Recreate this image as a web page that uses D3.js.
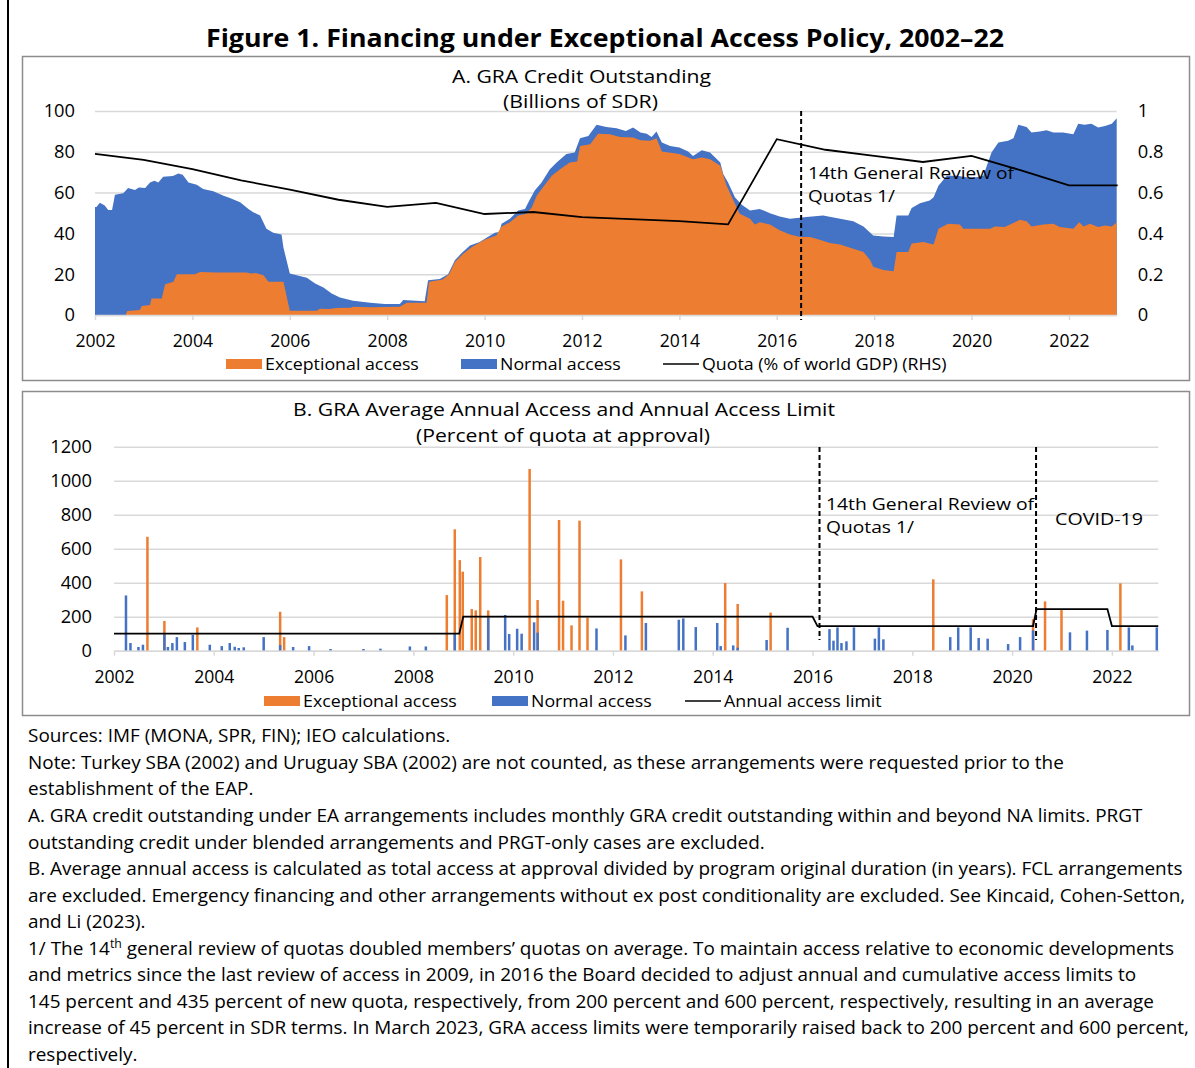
<!DOCTYPE html>
<html>
<head>
<meta charset="utf-8">
<script src="https://cdn.jsdelivr.net/npm/d3@7"></script>
<style>
  body { margin: 0; background: #fff; }
  svg { display: block; }
  text { font-family: "Open Sans", "Noto Sans", sans-serif; fill: #000; }
</style>
</head>
<body>
<div id="chart"></div>
<script>
// ---- Panel A: GRA credit outstanding, billions of SDR ([year, value]) ----
var totalCredit = [
  [2002.0,53],[2002.03,53],[2002.1,55],[2002.2,53.7],[2002.27,51.5],[2002.35,51.5],[2002.41,59],
  [2002.58,59.7],[2002.68,62.3],[2002.82,61.3],[2002.9,62.5],[2003.03,62.3],[2003.13,65],[2003.22,65.8],
  [2003.3,65],[2003.4,67.8],[2003.6,68.1],[2003.71,69.4],[2003.8,68.8],[2003.92,65],[2004.09,63.9],
  [2004.22,61.8],[2004.43,60.7],[2004.64,58.5],[2004.77,57.4],[2004.98,55.3],[2005.15,52],[2005.25,50.4],
  [2005.39,48.8],[2005.52,42.3],[2005.66,40.3],[2005.83,39.5],[2005.87,33],[2006.0,20.3],[2006.14,19.5],
  [2006.35,18.2],[2006.52,15.4],[2006.69,13.5],[2006.86,10.6],[2007.03,8.6],[2007.3,7],[2007.65,6],
  [2007.95,5.4],[2008.26,5.4],[2008.33,7.3],[2008.77,6.8],[2008.84,17],[2009.08,17.6],[2009.25,20],
  [2009.39,26.8],[2009.53,30.4],[2009.7,34.1],[2009.9,35.8],[2010.04,37.9],[2010.21,40.3],[2010.3,40.7],
  [2010.35,44.7],[2010.52,47.2],[2010.69,51.2],[2010.83,52],[2010.9,55.3],[2011.03,61],[2011.17,65],
  [2011.34,71.5],[2011.48,74.8],[2011.68,78.9],[2011.85,79.7],[2011.96,86.7],[2012.13,87.8],[2012.3,93.2],
  [2012.5,92.2],[2012.71,91.5],[2012.9,90.2],[2013.05,91.9],[2013.2,89.4],[2013.33,88.9],[2013.43,87.3],
  [2013.53,89.9],[2013.64,84.6],[2013.81,82.9],[2014.0,82.1],[2014.18,80.2],[2014.28,78],[2014.46,80.8],
  [2014.63,79.7],[2014.84,74.8],[2014.9,69.1],[2015.0,65],[2015.14,57.7],[2015.28,54.1],[2015.45,51.2],
  [2015.65,52],[2015.86,49.9],[2016.06,48.3],[2016.27,47.2],[2016.61,48],[2016.95,48.8],[2017.3,47.2],
  [2017.57,46],[2017.78,43.4],[2017.98,39],[2018.19,38.5],[2018.4,38.2],[2018.46,48.8],[2018.7,48.8],
  [2018.77,52.5],[2018.94,54.8],[2019.14,56.1],[2019.22,57.7],[2019.32,63.4],[2019.49,68.3],[2019.7,68.3],
  [2019.9,67.5],[2020.1,67.5],[2020.24,68.3],[2020.41,79.7],[2020.55,84.6],[2020.75,85.4],[2020.86,86.7],
  [2020.96,93.2],[2021.13,92.2],[2021.23,89.4],[2021.4,89.9],[2021.54,90.6],[2021.68,89.4],[2021.88,89.4],
  [2022.09,88.6],[2022.19,93.8],[2022.32,93.2],[2022.46,93.8],[2022.6,91.9],[2022.74,92.7],[2022.88,93.8],
  [2022.98,96.4]
];
var exceptionalCredit = [
  [2002.0,0],[2002.63,0],[2002.66,2],[2002.92,2.4],[2002.96,4.4],[2003.13,4.9],[2003.16,8.1],[2003.37,8.1],
  [2003.44,15.1],[2003.61,16.3],[2003.68,20],[2003.92,20],[2004.05,20],[2004.16,21.1],[2004.5,20.8],
  [2005.11,20.8],[2005.2,20.3],[2005.3,20.6],[2005.46,19.5],[2005.56,16.3],[2005.87,16.3],[2006.0,2.1],
  [2006.55,2.1],[2006.62,3.1],[2006.82,2.9],[2006.95,3.4],[2007.25,3.6],[2007.3,4.1],[2007.65,3.8],
  [2008.26,4.1],[2008.4,6],[2008.81,6],[2008.86,16.3],[2009.14,17.4],[2009.27,20],[2009.39,26],[2009.56,30],
  [2009.74,33.3],[2010.0,36.9],[2010.24,39],[2010.35,43.4],[2010.52,45.5],[2010.69,48.8],[2010.86,49.6],
  [2010.97,52.8],[2011.07,58.5],[2011.2,62.6],[2011.38,68.3],[2011.55,71.5],[2011.75,74.8],[2011.9,75.3],
  [2011.96,82.9],[2012.17,83.7],[2012.26,86.7],[2012.33,88.9],[2012.57,88.6],[2012.78,87.3],[2013.05,87],
  [2013.2,85.7],[2013.4,85.4],[2013.53,86.7],[2013.64,80.2],[2014.0,78.9],[2014.28,76.4],[2014.46,77.2],
  [2014.63,76.4],[2014.84,73.2],[2014.97,63.4],[2015.11,56.1],[2015.24,49.6],[2015.45,47.2],[2015.55,44.4],
  [2015.65,45.5],[2015.86,44.4],[2016.06,41.5],[2016.27,39.5],[2016.48,38.2],[2016.68,38.2],[2016.88,36.9],
  [2017.09,35.3],[2017.3,34.6],[2017.57,32.5],[2017.78,30.9],[2017.92,26.8],[2017.98,23.6],[2018.19,22],
  [2018.4,21.4],[2018.46,30.9],[2018.7,30.9],[2018.77,35],[2019.01,35.8],[2019.22,34.5],[2019.32,42.3],
  [2019.52,44.7],[2019.76,44.4],[2019.83,42.3],[2020.38,42.3],[2020.48,43.4],[2020.68,43.1],[2020.89,45.5],
  [2020.99,46.7],[2021.13,46],[2021.23,43.4],[2021.47,44.4],[2021.68,44.7],[2021.81,43.1],[2022.09,42.3],
  [2022.21,45.5],[2022.3,43.4],[2022.43,44.7],[2022.6,43.1],[2022.74,43.9],[2022.88,43.4],[2022.98,45.5]
];
// quota, % of world GDP (RHS)
var quotaYears = [2002,2003,2004,2005,2006,2007,2008,2009,2010,2011,2012,2013,2014,2015,2016,2017,2018,2019,2020,2021,2022,2023];
var quotaShare = [0.79,0.76,0.715,0.66,0.615,0.565,0.53,0.55,0.495,0.505,0.48,0.47,0.46,0.444,0.862,0.81,0.78,0.75,0.78,0.71,0.635,0.635];

// ---- Panel B: average annual access, percent of quota ----
var exceptionalDates = [2002.67,2003.01,2003.67,2005.33,2005.41,2008.67,2008.83,2008.93,2008.99,2009.17,2009.25,2009.34,2009.5,
  2010.33,2010.49,2010.92,2011.0,2011.17,2011.33,2011.49,2012.16,2012.58,2014.25,2014.5,2015.16,2018.42,2020.42,2020.66,2020.99,2022.17];
var exceptionalAccess = [670,175,137,229,80,327,714,533,465,245,237,551,237,
  1069,298,769,294,149,765,195,537,349,398,275,224,420,185,290,239,396];
var normalDates = [2002.24,2002.33,2002.49,2002.58,2003.01,2003.08,2003.17,2003.26,2003.42,2003.58,2003.92,2004.16,2004.32,
  2004.42,2004.5,2004.6,2005.0,2005.33,2005.59,2005.91,2006.34,2007.0,2007.34,2007.93,2008.25,2008.83,2009.5,2009.84,
  2009.92,2010.08,2010.17,2010.42,2010.49,2011.67,2012.25,2012.66,2013.32,2013.41,2013.66,2014.09,2014.16,2014.41,
  2014.5,2015.08,2015.5,2016.34,2016.42,2016.5,2016.58,2016.68,2016.83,2017.25,2017.33,2017.42,2018.76,2018.92,
  2019.17,2019.33,2019.51,2019.92,2020.16,2020.42,2021.16,2021.5,2021.91,2022.34,2022.41,2022.9];
var normalAccess = [325,45,22,35,95,22,45,80,51,94,35,27,45,
  23,16,20,80,33,22,27,10,10,12,25,25,100,195,210,
  98,129,100,167,106,131,90,163,182,190,139,163,27,31,
  18,63,135,127,59,137,45,55,137,71,137,67,80,137,
  137,75,71,39,80,120,108,118,122,137,31,137];
var limitDates = [2002,2008.92,2009.0,2016.0,2016.1,2020.42,2020.49,2021.91,2022.0,2022.93];
var limitValues = [100,100,200,200,145,145,245,245,145,145];

var reviewDateA = 2016.5, reviewDateB = 2016.14, covidDate = 2020.48;
var evenYears = [2002,2004,2006,2008,2010,2012,2014,2016,2018,2020,2022];

var notes = [
  "Sources: IMF (MONA, SPR, FIN); IEO calculations.",
  "Note: Turkey SBA (2002) and Uruguay SBA (2002) are not counted, as these arrangements were requested prior to the",
  "establishment of the EAP.",
  "A. GRA credit outstanding under EA arrangements includes monthly GRA credit outstanding within and beyond NA limits. PRGT",
  "outstanding credit under blended arrangements and PRGT-only cases are excluded.",
  "B. Average annual access is calculated as total access at approval divided by program original duration (in years). FCL arrangements",
  "are excluded. Emergency financing and other arrangements without ex post conditionality are excluded. See Kincaid, Cohen-Setton,",
  "and Li (2023).",
  ["1/ The 14", "th", " general review of quotas doubled members\u2019 quotas on average. To maintain access relative to economic developments"],
  "and metrics since the last review of access in 2009, in 2016 the Board decided to adjust annual and cumulative access limits to",
  "145 percent and 435 percent of new quota, respectively, from 200 percent and 600 percent, respectively, resulting in an average",
  "increase of 45 percent in SDR terms. In March 2023, GRA access limits were temporarily raised back to 200 percent and 600 percent,",
  "respectively."
];

var ORANGE = "#ED7D31", BLUE = "#4472C4", GRID = "#D9D9D9";
var W = 1195, H = 1068;
var AXIS_FONT = 18.3, XAXIS_FONT = 17.6, SUB_FONT = 18, LEG_FONT = 16.5, NOTE_FONT = 16.8;

var svg = d3.select("#chart").append("svg").attr("width", W).attr("height", H);
svg.append("rect").attr("width", W).attr("height", H).attr("fill", "#fff");

// outer figure rule on the left
svg.append("line").attr("x1", 8).attr("x2", 8).attr("y1", 0).attr("y2", H)
  .attr("stroke", "#000").attr("stroke-width", 2);

svg.append("text")
  .attr("x", 605).attr("y", 47)
  .attr("text-anchor", "middle")
  .attr("font-weight", 700).attr("font-size", 25)
  .attr("textLength", 798).attr("lengthAdjust", "spacingAndGlyphs")
  .text("Figure 1. Financing under Exceptional Access Policy, 2002\u201322");

// a label stretched to the width it has in the figure
function label(g, x, y, str, size, len, anchor) {
  return g.append("text").attr("x", x).attr("y", y).attr("dy", "0.35em")
    .attr("text-anchor", anchor || "start").attr("font-size", size)
    .attr("textLength", len).attr("lengthAdjust", "spacingAndGlyphs")
    .text(str);
}

function styleAxis(g) {
  g.select(".domain").remove();
  g.selectAll(".tick line").attr("stroke", GRID).attr("stroke-width", 1.5);
  g.selectAll(".tick text").attr("font-size", AXIS_FONT).attr("fill", "#000")
    .style("font-family", '"Open Sans", sans-serif');
}

function styleXAxis(g) {
  g.select(".domain").attr("stroke", GRID).attr("stroke-width", 1.5);
  g.selectAll(".tick line").attr("stroke", GRID).attr("stroke-width", 1.5);
  g.selectAll(".tick text").attr("font-size", XAXIS_FONT).attr("fill", "#000")
    .style("font-family", '"Open Sans", sans-serif');
}

function drawLegend(g, items, y) {
  var it = g.selectAll(".leg").data(items).enter().append("g").attr("class", "leg")
    .attr("transform", function(d) { return "translate(" + d.x + "," + y + ")"; });
  it.filter(function(d) { return d.type === "rect"; }).append("rect")
    .attr("x", 0).attr("y", -5).attr("width", 36).attr("height", 10).attr("fill", function(d) { return d.color; });
  it.filter(function(d) { return d.type === "line"; }).append("line")
    .attr("x1", 0).attr("x2", 36).attr("y1", 0).attr("y2", 0).attr("stroke", "#000").attr("stroke-width", 1.5);
  var txt = it.append("text").attr("x", 39).attr("y", 0).attr("dy", "0.35em").attr("font-size", 17.8)
    .text(function(d) { return d.label; });
  // keep the width of the larger size, with a lower line box
  txt.each(function() {
    var w = this.getComputedTextLength();
    d3.select(this).attr("font-size", LEG_FONT).attr("textLength", w).attr("lengthAdjust", "spacingAndGlyphs");
  });
}

// ================= Panel A =================
var gA = svg.append("g");
gA.append("rect").attr("x", 22.5).attr("y", 56.5).attr("width", 1167).attr("height", 324)
  .attr("fill", "none").attr("stroke", "#8c8c8c").attr("stroke-width", 1.5);

var xA = d3.scaleLinear().domain([2002, 2022.98]).range([95, 1116.7]);
var yA = d3.scaleLinear().domain([0, 100]).range([315, 111]);
var yR = d3.scaleLinear().domain([0, 1]).range([315, 111]);

label(gA, 581.5, 77, "A. GRA Credit Outstanding", SUB_FONT, 259, "middle");
label(gA, 580.5, 102, "(Billions of SDR)", SUB_FONT, 155, "middle");

gA.append("g").attr("transform", "translate(95,0)")
  .call(d3.axisLeft(yA).tickValues([0, 20, 40, 60, 80, 100]).tickSize(-(1116.7 - 95)).tickPadding(20))
  .call(styleAxis);

gA.append("g").attr("transform", "translate(1116.7,0)")
  .call(d3.axisRight(yR).tickValues([0, 0.2, 0.4, 0.6, 0.8, 1]).tickSize(0).tickPadding(21)
    .tickFormat(function(d) { return String(+d.toFixed(1)); }))
  .call(styleAxis);

var areaA = d3.area().x(function(d) { return xA(d[0]); }).y0(yA(0)).y1(function(d) { return yA(d[1]); });
gA.append("path").datum(totalCredit).attr("fill", BLUE).attr("d", areaA);
gA.append("path").datum(exceptionalCredit).attr("fill", ORANGE).attr("d", areaA);

gA.append("g").attr("transform", "translate(0,315)")
  .call(d3.axisBottom(xA).tickValues(evenYears).tickFormat(d3.format("d")).tickSize(5).tickSizeOuter(0).tickPadding(15))
  .call(styleXAxis);

var quotaLine = d3.line().x(function(d, i) { return xA(quotaYears[i]); }).y(function(d) { return yR(d); });
gA.append("path").datum(quotaShare).attr("fill", "none").attr("stroke", "#000").attr("stroke-width", 1.8)
  .attr("d", quotaLine);

gA.append("line").attr("x1", xA(reviewDateA)).attr("x2", xA(reviewDateA)).attr("y1", 111).attr("y2", 320)
  .attr("stroke", "#000").attr("stroke-width", 2).attr("stroke-dasharray", "5,3");
label(gA, 808, 173, "14th General Review of", NOTE_FONT, 206);
label(gA, 808, 196, "Quotas 1/", NOTE_FONT, 87);

drawLegend(gA, [
  {type: "rect", color: ORANGE, label: "Exceptional access", x: 226},
  {type: "rect", color: BLUE, label: "Normal access", x: 461},
  {type: "line", label: "Quota (% of world GDP) (RHS)", x: 663}
], 364);

// ================= Panel B =================
var gB = svg.append("g");
gB.append("rect").attr("x", 22.5).attr("y", 391.5).attr("width", 1167).attr("height", 324)
  .attr("fill", "none").attr("stroke", "#8c8c8c").attr("stroke-width", 1.5);

var xB = d3.scaleLinear().domain([2002, 2022.93]).range([114, 1158.3]);
var yB = d3.scaleLinear().domain([0, 1200]).range([650.7, 446.7]);

label(gB, 564, 410, "B. GRA Average Annual Access and Annual Access Limit", SUB_FONT, 542, "middle");
label(gB, 563, 436, "(Percent of quota at approval)", SUB_FONT, 294, "middle");

gB.append("g").attr("transform", "translate(114,0)")
  .call(d3.axisLeft(yB).tickValues([0, 200, 400, 600, 800, 1000, 1200]).tickFormat(d3.format("d"))
    .tickSize(-(1158.3 - 114)).tickPadding(22))
  .call(styleAxis);

gB.selectAll(".bar-ea").data(exceptionalAccess).enter().append("rect").attr("class", "bar-ea")
  .attr("x", function(d, i) { return xB(exceptionalDates[i]) - 1.25; })
  .attr("width", 2.5)
  .attr("y", function(d) { return yB(d); })
  .attr("height", function(d) { return yB(0) - yB(d); })
  .attr("fill", ORANGE);
gB.selectAll(".bar-na").data(normalAccess).enter().append("rect").attr("class", "bar-na")
  .attr("x", function(d, i) { return xB(normalDates[i]) - 1.25; })
  .attr("width", 2.5)
  .attr("y", function(d) { return yB(d); })
  .attr("height", function(d) { return yB(0) - yB(d); })
  .attr("fill", BLUE);

gB.append("g").attr("transform", "translate(0,650.7)")
  .call(d3.axisBottom(xB).tickValues(evenYears).tickFormat(d3.format("d")).tickSize(5).tickSizeOuter(0).tickPadding(14.5))
  .call(styleXAxis);

var limitLine = d3.line().x(function(d, i) { return xB(limitDates[i]); }).y(function(d) { return yB(d); });
gB.append("path").datum(limitValues).attr("fill", "none").attr("stroke", "#000").attr("stroke-width", 1.8)
  .attr("d", limitLine);

[reviewDateB, covidDate].forEach(function(d) {
  gB.append("line").attr("x1", xB(d)).attr("x2", xB(d)).attr("y1", 447).attr("y2", 640)
    .attr("stroke", "#000").attr("stroke-width", 2).attr("stroke-dasharray", "5,3");
});
label(gB, 826, 504, "14th General Review of", NOTE_FONT, 208);
label(gB, 826, 527, "Quotas 1/", NOTE_FONT, 88);
label(gB, 1055, 519, "COVID-19", NOTE_FONT, 88);

drawLegend(gB, [
  {type: "rect", color: ORANGE, label: "Exceptional access", x: 264},
  {type: "rect", color: BLUE, label: "Normal access", x: 492},
  {type: "line", label: "Annual access limit", x: 685}
], 701);

// ================= Notes =================
var gN = svg.append("g");
var noteY = [735, 762, 788, 815, 842, 868, 895, 921, 948, 974, 1001, 1027, 1054];
var noteSize = 17.5;
var noteText = gN.selectAll(".note").data(notes).enter().append("text").attr("class", "note")
  .attr("x", 28).attr("y", function(d, i) { return noteY[i]; }).attr("dy", "0.35em")
  .attr("font-size", noteSize);
noteText.each(function(d) {
  var t = d3.select(this);
  if (typeof d === "string") { t.text(d); return; }
  t.append("tspan").text(d[0]);
  t.append("tspan").attr("font-size", noteSize * 0.65).attr("dy", "-0.5em").text(d[1]);
  t.append("tspan").attr("dy", "0.32em").text(d[2]);
});
// fit the longest note line to the width it takes in the figure
var longest = noteText.filter(function(d, i) { return i === 5; }).node().getComputedTextLength();
var fitted = noteSize * 1155 / longest;
noteText.attr("font-size", fitted);
noteText.selectAll("tspan").filter(function(d, i) { return i === 1; }).attr("font-size", fitted * 0.65);
</script>
</body>
</html>
